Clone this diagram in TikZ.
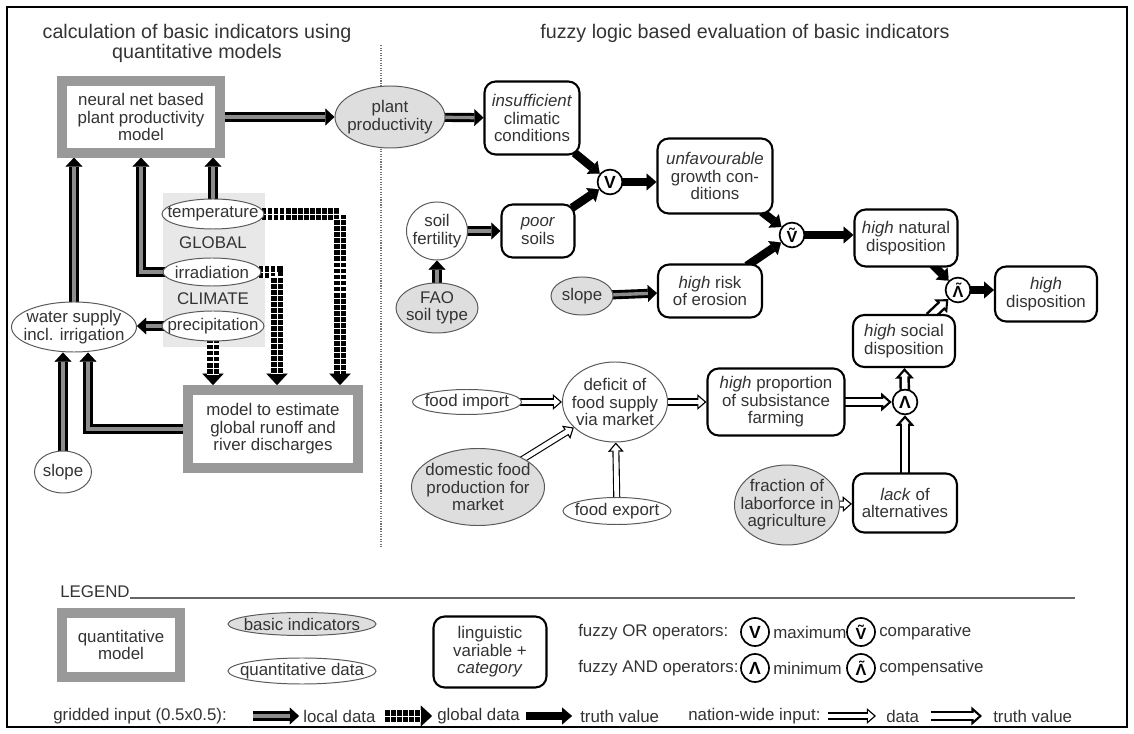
\documentclass[tikz,border=0pt]{standalone}
\usepackage{fontspec}
\setmainfont{Liberation Sans}
\usetikzlibrary{arrows.meta,shapes.geometric,calc}
\pgfdeclarelayer{background}
\pgfsetlayers{background,main}

\tikzset{
  every node/.style={font=\fontsize{12}{12.5}\selectfont, text=black!80},
  modelbox/.style={draw=black!40, line width=0.25cm, fill=white, inner sep=2pt, align=center},
  lingbox/.style={draw=black, line width=1.5pt, rounded corners=8pt, fill=white, inner sep=2pt, align=center},
  basicind/.style={ellipse, draw=black!65, line width=0.7pt, fill=black!13, inner sep=-12pt, align=center},
  quantdata/.style={basicind, fill=white},
  opnode/.style={circle, draw=black, line width=1.2pt, fill=white, minimum size=0.62cm, inner sep=0pt,
    font=\bfseries\fontsize{12.5}{12.5}\selectfont, text=black},
  optilde/.style={opnode, font=\bfseries\fontsize{11.5}{11.5}\selectfont},
  legendtxt/.style={anchor=west, inner sep=0pt},
  localarrow/.style={draw=black, line width=6.5pt, shorten <=-3pt,
    -{Triangle[length=6.5pt,width=12pt,line width=0.1pt]},
    postaction={draw=black!45, line width=2.4pt, arrows=-, shorten >=6.5pt}},
  globalarrow/.style={draw=black, line width=8.5pt, shorten <=-3pt,
    -{Triangle[length=8pt,width=15pt,line width=0.1pt]},
    postaction={draw=white, line width=0.7pt, arrows=-, shorten >=8pt},
    postaction={draw=white, line width=8.5pt, dash pattern=on 0.9pt off 3.4pt, arrows=-, shorten >=8pt}},
  trutharrow/.style={draw=black, line width=6pt, shorten <=-3pt,
    -{Triangle[length=7pt,width=12pt,line width=0.1pt]}},
  dataarrow/.style={draw=black, line width=5pt, shorten <=-3pt,
    -{Triangle[length=6.5pt,width=11pt,fill=white,line width=0.8pt]},
    postaction={draw=white, line width=3.4pt, arrows=-, shorten >=5pt}},
  truthwhite/.style={draw=black, line width=7.5pt, shorten <=-3pt,
    -{Triangle[length=7.5pt,width=13pt,fill=white,line width=1.5pt]},
    postaction={draw=white, line width=4pt, arrows=-, shorten >=5.5pt}},
}

\begin{document}
\begin{tikzpicture}[x=0.025cm, y=-0.025cm]
  \useasboundingbox (0,0) rectangle (1134,734);
  \draw[line width=1.5pt] (7,7) rectangle (1127,727);

  \node[font=\fontsize{14}{14.2}\selectfont, align=center] (headleft) at (197,43) {calculation of basic indicators using\\quantitative models};
  \node[font=\fontsize{14}{14.2}\selectfont] (headright) at (745,33) {fuzzy logic based evaluation of basic indicators};

  \node[modelbox, minimum width=3.925cm, minimum height=1.775cm] (neuralnet) at (141,117) {neural net based\\plant productivity\\model};
  \node[modelbox, minimum width=4.25cm, minimum height=1.95cm] (runoff) at (273,429) {model to estimate\\global runoff and\\river discharges};
  \node[quantdata, minimum width=2.55cm, minimum height=0.75cm] (temperature) at (213,214) {temperature};
  \node (globaltxt) at (213,243) {GLOBAL};
  \node[quantdata, minimum width=2.45cm, minimum height=0.7cm] (irradiation) at (212,272) {irradiation};
  \node (climatetxt) at (213,299) {CLIMATE};
  \node[quantdata, minimum width=2.55cm, minimum height=0.75cm] (precipitation) at (213,326) {precipitation};
  \node[quantdata, minimum width=3.125cm, minimum height=1.25cm] (watersupply) at (74,327) {water supply\\incl. irrigation};
  \node[quantdata, minimum width=1.425cm, minimum height=1.05cm] (slopeL) at (63,472) {slope};
  \node[basicind, minimum width=2.75cm, minimum height=1.55cm] (plantprod) at (390,117) {plant\\productivity};

  \node[lingbox, minimum width=2.375cm, minimum height=1.825cm] (insufficient) at (532,118) {\textit{insufficient}\\climatic\\conditions};
  \node[opnode] (or1) at (610,182) {V};
  \node[lingbox, minimum width=2.875cm, minimum height=1.875cm] (unfavourable) at (715,176) {\textit{unfavourable}\\growth con-\\ditions};
  \node[quantdata, minimum width=1.525cm, minimum height=1.45cm] (soilfert) at (437,231) {soil\\fertility};
  \node[lingbox, minimum width=1.825cm, minimum height=1.325cm] (poorsoils) at (538,231) {\textit{poor}\\soils};
  \node[basicind, minimum width=2.05cm, minimum height=1.25cm] (fao) at (437,308) {FAO\\soil type};
  \node[basicind, minimum width=1.55cm, minimum height=0.95cm] (slopeR) at (582,296) {slope};
  \node[lingbox, minimum width=2.6cm, minimum height=1.325cm] (erosion) at (710,291) {\textit{high} risk\\of erosion};
  \node[optilde] (or2) at (792,235) {\~{V}};
  \node[lingbox, minimum width=2.575cm, minimum height=1.425cm] (natural) at (906,238) {\textit{high} natural\\disposition};
  \node[optilde] (and2) at (958,290) {\~{Λ}};
  \node[lingbox, minimum width=2.55cm, minimum height=1.375cm] (highdisp) at (1046,294) {\textit{high}\\disposition};
  \node[lingbox, minimum width=2.55cm, minimum height=1.3cm] (social) at (904,341) {\textit{high} social\\disposition};
  \node[opnode] (and1) at (905,402) {Λ};
  \node[lingbox, minimum width=3.425cm, minimum height=1.675cm] (subsist) at (776,402) {\textit{high} proportion\\of subsistance\\farming};
  \node[lingbox, minimum width=2.6cm, minimum height=1.475cm] (lackalt) at (905,503) {\textit{lack} of\\alternatives};
  \node[basicind, minimum width=2.625cm, minimum height=2cm] (fraction) at (787,505) {fraction of\\laborforce in\\agriculture};
  \node[quantdata, minimum width=2.625cm, minimum height=2cm] (deficit) at (615,402) {deficit of\\food supply\\via market};
  \node[quantdata, minimum width=2.725cm, minimum height=0.625cm] (foodimport) at (467,402) {food import};
  \node[basicind, minimum width=3.325cm, minimum height=1.925cm] (domestic) at (478,487) {domestic food\\production for\\market};
  \node[quantdata, minimum width=2.7cm, minimum height=0.675cm] (foodexport) at (617,511) {food export};

  \node[anchor=base west, inner sep=0pt] (legendtitle) at (60,598) {LEGEND};
  \coordinate (legendend) at (1075,598);
  \draw[black!60, line width=0.8pt] (legendtitle.base east) -- (legendend);
  \node[modelbox, minimum width=2.95cm, minimum height=1.6cm] (lgmodel) at (121,645) {quantitative\\model};
  \node[basicind, minimum width=3.7cm, minimum height=0.575cm] (lgbasic) at (302,624) {basic indicators};
  \node[quantdata, minimum width=3.7cm, minimum height=0.65cm] (lgquant) at (302,671) {quantitative data};
  \node[lingbox, minimum width=2.825cm, minimum height=1.775cm] (lgling) at (490,652) {linguistic\\variable +\\\textit{category}};
  \node[legendtxt] (lgortxt) at (578,632) {fuzzy OR operators:};
  \node[opnode, minimum size=0.7cm] (lgor1) at (755,632) {V};
  \node[legendtxt] (lgmax) at (773,632) {maximum};
  \node[optilde, minimum size=0.7cm] (lgor2) at (861,632) {\~{V}};
  \node[legendtxt] (lgcomp) at (879,632) {comparative};
  \node[legendtxt] (lgandtxt) at (578,668) {fuzzy AND operators:};
  \node[opnode, minimum size=0.7cm] (lgand1) at (755,668) {Λ};
  \node[legendtxt] (lgmin) at (773,668) {minimum};
  \node[optilde, minimum size=0.7cm] (lgand2) at (861,668) {\~{Λ}};
  \node[legendtxt] (lgcompens) at (879,668) {compensative};
  \node[legendtxt] (lggrid) at (53,716) {gridded input (0.5x0.5):};
  \coordinate (lglocA) at (257,716);
  \coordinate (lglocB) at (299,716);
  \node[legendtxt] (lglocal) at (303,716) {local data};
  \coordinate (lgglobA) at (388,716);
  \coordinate (lgglobB) at (432,716);
  \node[legendtxt] (lgglobal) at (437,716) {global data};
  \coordinate (lgtruthA) at (530,716);
  \coordinate (lgtruthB) at (572,716);
  \node[legendtxt] (lgtruth) at (580,716) {truth value};
  \node[legendtxt] (lgnation) at (688,716) {nation-wide input:};
  \coordinate (lgdataA) at (832,716);
  \coordinate (lgdataB) at (876,716);
  \node[legendtxt] (lgdata) at (886,716) {data};
  \coordinate (lgtwA) at (935,716);
  \coordinate (lgtwB) at (982,716);
  \node[legendtxt] (lgtruthw) at (993,716) {truth value};

  \begin{pgfonlayer}{background}
    \fill[black!9] (163,193) rectangle (265,347);
    \draw[black!55, densely dotted, line width=0.8pt] (381,45) -- (381,548);

    \draw[localarrow] (neuralnet.east) -- (plantprod.west);
    \draw[localarrow] (watersupply.north) -- (watersupply.north |- neuralnet.south);
    \draw[localarrow] (irradiation.west) -| (neuralnet.south);
    \draw[localarrow] (temperature.north) -- (temperature.north |- neuralnet.south);
    \draw[localarrow] (precipitation.west) -- (precipitation.west -| watersupply.east);
    \draw[localarrow] (slopeL.north) -- (slopeL.north |- watersupply.south);
    \draw[localarrow] (runoff.west) -| ($(watersupply.south)+(14,0)$);
    \draw[globalarrow] (precipitation.south) -- (precipitation.south |- runoff.north);
    \draw[globalarrow] (irradiation.east) -| ($(runoff.north)+(4,0)$);
    \draw[globalarrow] (temperature.east) -| ($(runoff.north east)+(-23,0)$);

    \draw[localarrow] (plantprod) -- (insufficient);
    \draw[localarrow] (soilfert) -- (poorsoils);
    \draw[localarrow] (fao) -- (soilfert);
    \draw[localarrow] (slopeR) -- (erosion);
    \draw[trutharrow] (insufficient) -- (or1);
    \draw[trutharrow] (poorsoils) -- (or1);
    \draw[trutharrow] (or1) -- (or1 -| unfavourable.west);
    \draw[trutharrow] (unfavourable) -- (or2);
    \draw[trutharrow] (erosion) -- (or2);
    \draw[trutharrow] (or2) -- (or2 -| natural.west);
    \draw[trutharrow] (natural) -- (and2);
    \draw[truthwhite] (social) -- (and2);
    \draw[trutharrow] (and2) -- (and2 -| highdisp.west);
    \draw[dataarrow] (foodimport) -- (deficit);
    \draw[dataarrow] (domestic) -- (deficit);
    \draw[dataarrow] (foodexport) -- (deficit);
    \draw[dataarrow] (deficit) -- (subsist);
    \draw[truthwhite] (subsist) -- (and1);
    \draw[truthwhite] (lackalt) -- (and1);
    \draw[truthwhite] (and1) -- (social);
    \draw[dataarrow] (fraction) -- (lackalt);

    \draw[localarrow] (lglocA) -- (lglocB);
    \draw[globalarrow] (lgglobA) -- (lgglobB);
    \draw[trutharrow] (lgtruthA) -- (lgtruthB);
    \draw[dataarrow] (lgdataA) -- (lgdataB);
    \draw[truthwhite] (lgtwA) -- (lgtwB);
  \end{pgfonlayer}
\end{tikzpicture}
\end{document}
